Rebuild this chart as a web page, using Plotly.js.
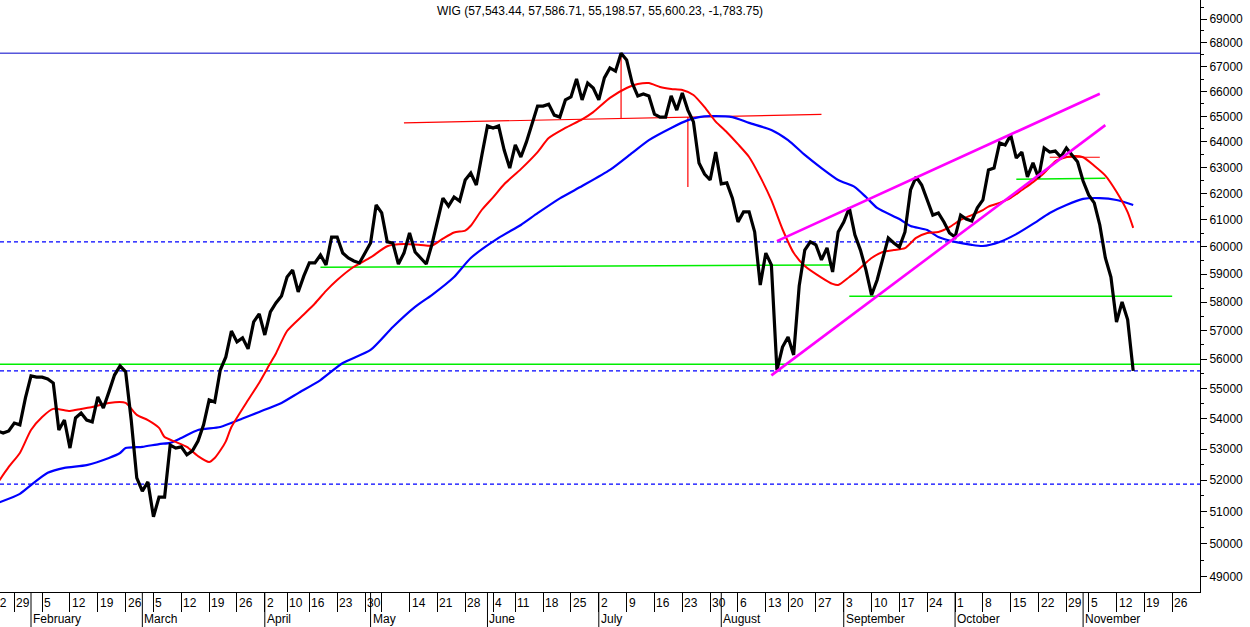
<!DOCTYPE html>
<html><head><meta charset="utf-8">
<script src="https://cdn.plot.ly/plotly-3.0.1.min.js"></script>
<style>html,body{margin:0;padding:0;background:#fff}#chart{width:1250px;height:627px}</style>
</head><body><div id="chart"></div>
<script>
// ---- calendar (Warsaw Stock Exchange, 2007) ----
const CAL_START = "2007-01-22";
const CAL_END = "2007-11-30";
const HOLIDAYS = ["2007-04-06","2007-04-09","2007-05-01","2007-05-03","2007-06-07","2007-08-15","2007-11-01"];

// ---- WIG daily close ----
const priceStart = "2007-01-24";
const price = [
53590,53520,53590,53850,53790,54690,55430,55390,55390,55330,
55190,53620,53950,53030,54020,54180,53950,53890,54720,54350,
54890,55460,55770,55570,53950,52070,51650,51940,50840,51460,
51460,53130,53030,53070,52810,52940,53260,53790,54620,54550,
55630,56080,56980,56600,56740,56360,57300,57580,56840,57650,
57970,58220,58900,59150,58360,58930,59410,59410,59700,59340,
60360,60360,59770,59590,59480,59410,59770,60140,61560,61260,
60180,60140,59370,59770,60510,59810,59590,59370,60070,60920,
61820,61520,61860,61710,62510,62780,62320,63480,64620,64540,
64620,63670,62970,63870,63400,63990,64700,65410,65410,65490,
65050,64970,65660,65780,66510,65660,66340,66140,65660,66550,
66960,66830,67569,67290,66340,65820,65900,65820,65090,64970,
64970,65820,65250,65940,65250,64780,63170,62740,62510,63590,
62360,62400,61820,60920,61300,61300,60550,58610,59770,59340,
55630,56420,56770,56150,58580,59880,60180,60070,59520,59960,
59080,60550,60920,61450,60440,59880,59150,58250,58790,59590,
60330,60140,59990,60550,62130,62630,62320,61750,61180,61260,
60920,60510,60360,61180,61030,60960,61450,61750,62900,62970,
63950,63870,64260,63360,63590,62630,63170,62590,63750,63590,
63630,63400,63750,63480,63210,62470,61940,61640,60810,59590,
58900,57296,58003,57383.98,55600.23
];

// ---- short moving average (red) ----
const redDates = ["2007-01-24","2007-01-26","2007-01-30","2007-02-01","2007-02-05","2007-02-07","2007-02-12","2007-02-14","2007-02-16","2007-02-21",
"2007-02-26","2007-02-28","2007-03-02","2007-03-06","2007-03-07","2007-03-09","2007-03-13","2007-03-15","2007-03-19","2007-03-20",
"2007-03-21","2007-03-22","2007-03-23","2007-03-28","2007-03-30","2007-04-03","2007-04-04","2007-04-10","2007-04-13","2007-04-17",
"2007-04-19","2007-04-23","2007-04-26","2007-05-02","2007-05-08","2007-05-11","2007-05-16","2007-05-18","2007-05-22","2007-05-24",
"2007-05-28","2007-05-29","2007-05-31","2007-06-04","2007-06-06","2007-06-12","2007-06-15","2007-06-19","2007-06-22","2007-06-27",
"2007-06-29","2007-07-04","2007-07-09","2007-07-11","2007-07-13","2007-07-17","2007-07-19","2007-07-23","2007-07-25","2007-07-27",
"2007-07-31","2007-08-02","2007-08-06","2007-08-08","2007-08-10","2007-08-14","2007-08-17","2007-08-21","2007-08-23","2007-08-28",
"2007-08-30","2007-08-31","2007-09-04","2007-09-05","2007-09-07","2007-09-10","2007-09-12","2007-09-14","2007-09-18","2007-09-20",
"2007-09-24","2007-09-26","2007-09-28","2007-10-02","2007-10-04","2007-10-08","2007-10-09","2007-10-11","2007-10-15","2007-10-17",
"2007-10-19","2007-10-23","2007-10-25","2007-10-26","2007-10-30","2007-11-02","2007-11-06","2007-11-08","2007-11-12","2007-11-14",
"2007-11-15"];
const redValues = [51910,52420,52870,53620,54050,54320,54250,54320,54380,54520,
54520,54120,53950,53690,53390,53230,53070,52770,52580,52710,
52950,53250,53720,54620,55200,55870,56200,56980,57560,57950,
58400,58790,59270,59610,60020,60100,60070,60040,60300,60530,
60600,60780,61380,61850,62350,62930,63590,64140,64540,64880,
65170,65740,66140,66300,66340,66180,66100,66060,65860,65370,
64790,64370,63900,63400,62630,61740,60650,59780,59300,58880,
58650,58610,58900,59050,59420,59590,59810,59880,59950,60330,
60510,60550,60730,61000,61180,61370,61500,61640,61830,62130,
62430,62780,63230,63330,63430,63390,63060,62680,62060,61290,
60700];

// ---- long moving average (blue) ----
const blueDates = ["2007-01-24","2007-01-30","2007-02-01","2007-02-06","2007-02-09","2007-02-15","2007-02-21","2007-02-23","2007-02-26","2007-03-01",
"2007-03-06","2007-03-08","2007-03-12","2007-03-15","2007-03-21","2007-03-27","2007-03-30","2007-04-05","2007-04-12","2007-04-18",
"2007-04-24","2007-05-02","2007-05-09","2007-05-15","2007-05-18","2007-05-24","2007-05-29","2007-06-05","2007-06-12","2007-06-15",
"2007-06-21","2007-06-27","2007-07-04","2007-07-10","2007-07-13","2007-07-19","2007-07-24","2007-07-26","2007-07-30","2007-08-03",
"2007-08-08","2007-08-14","2007-08-20","2007-08-23","2007-08-28","2007-08-31","2007-09-05","2007-09-07","2007-09-11","2007-09-17",
"2007-09-19","2007-09-24","2007-09-26","2007-10-01","2007-10-04","2007-10-08","2007-10-11","2007-10-16","2007-10-19","2007-10-24",
"2007-10-29","2007-11-02","2007-11-07","2007-11-12","2007-11-15"];
const blueValues = [51270,51560,51840,52230,52390,52480,52710,52870,53030,53070,
53160,53200,53360,53620,53720,54000,54220,54520,54850,55290,
55870,56320,57120,57830,58250,58900,59590,60330,60810,61250,
61810,62280,62900,63560,64060,64540,64850,64970,65010,64970,
64740,64460,64060,63480,62970,62510,62240,61860,61450,61030,
60770,60620,60360,60180,60070,60030,60180,60470,60850,61260,
61560,61790,61820,61750,61560];

// ---- axis labels ----
const weekTicks = ["2007-01-22","2007-01-29","2007-02-05","2007-02-12","2007-02-19","2007-02-26","2007-03-05","2007-03-12","2007-03-19","2007-03-26",
"2007-04-02","2007-04-10","2007-04-16","2007-04-23","2007-04-30","2007-05-07","2007-05-14","2007-05-21","2007-05-28","2007-06-04",
"2007-06-11","2007-06-18","2007-06-25","2007-07-02","2007-07-09","2007-07-16","2007-07-23","2007-07-30","2007-08-06","2007-08-13",
"2007-08-20","2007-08-27","2007-09-03","2007-09-10","2007-09-17","2007-09-24","2007-10-01","2007-10-08","2007-10-15","2007-10-22",
"2007-10-29","2007-11-05","2007-11-12","2007-11-19","2007-11-26"];
const weekLabels = ["22","29","5","12","19","26","5","12","19","26",
"2","10","16","23","30","","14","21","28","4",
"11","18","25","2","9","16","23","30","6","13",
"20","27","3","10","17","24","1","8","15","22",
"29","5","12","19","26"];
const monthStarts = ["2007-02-01","2007-03-01","2007-04-02","2007-05-02","2007-06-01","2007-07-02","2007-08-01","2007-09-03","2007-10-01","2007-11-02"];
const monthNames = ["February","March","April","May","June","July","August","September","October","November"];
const yTicks = [49000,50000,51000,52000,53000,54000,55000,56000,57000,58000,59000,60000,61000,62000,63000,64000,65000,66000,67000,68000,69000];

// ---- drawn levels and trend lines [date0, value0, date1, value1] ----
const peakLevel = 67570;
const dashedLevels = [60180, 55600.23, 51870];
const greenLevel = 55830;
const greenSegments = [
  ["2007-04-18",59250,"2007-08-30",59335],
  ["2007-09-04",58205,"2007-11-26",58205],
  ["2007-10-16",62537,"2007-11-08",62575]
];
const redSegments = [
  ["2007-05-11",64740,"2007-08-28",65080],
  ["2007-07-06",64920,"2007-07-06",67540],
  ["2007-07-24",64970,"2007-07-24",62240],
  ["2007-10-24",63390,"2007-11-07",63390]
];
const channelLines = [
  ["2007-08-16",60210,"2007-11-07",65910],
  ["2007-08-14",55450,"2007-11-08",64650]
];

// ---- build ----
function tradingDays(start, end, holidays) {
  const out = [], hs = new Set(holidays);
  const d = new Date(start + "T00:00:00Z"), e = new Date(end + "T00:00:00Z");
  while (d <= e) {
    const wd = d.getUTCDay(), s = d.toISOString().slice(0, 10);
    if (wd !== 0 && wd !== 6 && !hs.has(s)) out.push(s);
    d.setUTCDate(d.getUTCDate() + 1);
  }
  return out;
}
const days = tradingDays(CAL_START, CAL_END, HOLIDAYS);
const i0 = days.indexOf(priceStart);
const priceDates = days.slice(i0, i0 + price.length);

const FONT = {family: "Liberation Sans, Arial, sans-serif", size: 12, color: "#000"};

const traces = [
  {x: blueDates, y: blueValues, type: "scatter", mode: "lines", line: {color: "#0000ff", width: 2.2, shape: "spline", smoothing: 0.6}},
  {x: redDates, y: redValues, type: "scatter", mode: "lines", line: {color: "#ff0000", width: 2, shape: "spline", smoothing: 0.6}},
  {x: priceDates, y: price, type: "scatter", mode: "lines", line: {color: "#000000", width: 3.2}}
];

const shapes = [];
const hline = (v, color, width, dash) => ({type: "line", xref: "paper", x0: 0, x1: 1, yref: "y", y0: v, y1: v, line: {color, width, dash}, layer: "below"});
shapes.push(hline(peakLevel, "#0000c8", 1, "solid"));
dashedLevels.forEach(v => shapes.push(hline(v, "#0000ff", 1.3, "4px,3px")));
shapes.push(hline(greenLevel, "#00ee00", 1.5, "solid"));
const seg = (s, color, width) => ({type: "line", xref: "x", yref: "y", x0: s[0], y0: s[1], x1: s[2], y1: s[3], line: {color, width}, layer: "below"});
greenSegments.forEach(s => shapes.push(seg(s, "#00ee00", 1.5)));
redSegments.forEach(s => shapes.push(seg(s, "#ff0000", 1.2)));
channelLines.forEach(s => { const o = seg(s, "#ff00ff", 2.6); o.layer = "above"; shapes.push(o); });
monthStarts.forEach(m => shapes.push({type: "line", xref: "x", yref: "paper", x0: m, x1: m, y0: 0, y1: -0.06, line: {color: "#000", width: 1}}));

const annotations = [];
weekTicks.forEach((d, i) => {
  if (!weekLabels[i] || i === 0) return;
  annotations.push({x: d, xref: "x", y: 0, yref: "paper", yshift: -11, text: weekLabels[i], showarrow: false,
    xanchor: "left", yanchor: "middle", xshift: 0, font: FONT});
});
annotations.push({x: 0, xref: "paper", y: 0, yref: "paper", yshift: -11, xshift: -9, text: weekLabels[0], showarrow: false,
  xanchor: "left", yanchor: "middle", font: FONT});
monthStarts.forEach((m, i) => annotations.push({x: m, xref: "x", y: 0, yref: "paper", yshift: -27, text: monthNames[i],
  showarrow: false, xanchor: "left", yanchor: "middle", xshift: 0, font: FONT}));

const layout = {
  width: 1250, height: 627,
  margin: {l: 0, r: 50, t: 0, b: 35, pad: 0},
  paper_bgcolor: "#fff", plot_bgcolor: "#fff",
  showlegend: false, hovermode: false,
  font: FONT,
  title: {text: "WIG (57,543.44, 57,586.71, 55,198.57, 55,600.23, -1,783.75)", font: FONT,
    x: 0.5, xref: "paper", xanchor: "center", y: 1 - 11 / 627, yref: "container", yanchor: "middle"},
  xaxis: {type: "category", categoryorder: "array", categoryarray: days, range: [2.43, 218.0], autorange: false,
    showgrid: false, zeroline: false, showline: true, linecolor: "#000", linewidth: 1,
    tickmode: "array", tickvals: weekTicks, ticks: "outside", ticklen: 19, tickwidth: 1, tickcolor: "#000",
    showticklabels: false, fixedrange: true},
  yaxis: {type: "log", side: "right", range: [4.68617, 4.84392], autorange: false,
    showgrid: false, zeroline: false, showline: true, linecolor: "#000", linewidth: 1,
    tickmode: "array", tickvals: yTicks, ticktext: yTicks.map(String), ticks: "outside", ticklen: 6, tickcolor: "#000",
    tickfont: FONT,
    minor: {tickmode: "array", tickvals: yTicks.map(v => v - 500).concat([69500]), ticks: "outside", ticklen: 3, tickcolor: "#000"},
    fixedrange: true},
  shapes, annotations
};

Plotly.newPlot("chart", traces, layout, {staticPlot: true, displayModeBar: false});
</script></body></html>
